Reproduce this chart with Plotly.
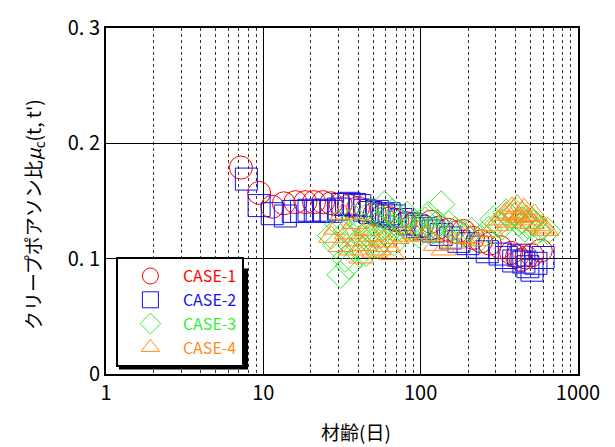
import plotly.graph_objects as go

# Creep Poisson's ratio vs. concrete age (days) for four test cases
case1_age = [7.2, 9.4, 11.4, 13.5, 16, 18.5, 21, 24, 27, 31, 35, 40, 45, 51, 57, 64, 71, 80, 90,
             102, 116, 130, 150, 170, 187, 215, 242, 275, 320, 376, 410, 433, 470, 510, 580]
case1_mu = [0.179, 0.157, 0.145, 0.148, 0.149, 0.149, 0.149, 0.149, 0.148, 0.147, 0.146, 0.144,
            0.142, 0.139, 0.137, 0.135, 0.133, 0.131, 0.130, 0.129, 0.132, 0.127, 0.125, 0.123,
            0.124, 0.118, 0.115, 0.113, 0.110, 0.105, 0.102, 0.099, 0.101, 0.103, 0.107]

case2_age = [7.8, 9.4, 11.4, 13.8, 15.5, 17.5, 19.5, 22, 24.5, 27, 30, 32, 35, 38, 41, 44, 48, 53,
             58, 63, 68, 75, 85, 95, 108, 120, 135, 155, 175, 200, 230, 265, 320, 350, 390, 420,
             453, 480, 510, 540, 600]
case2_mu = [0.169, 0.146, 0.139, 0.137, 0.141, 0.141, 0.142, 0.141, 0.142, 0.141, 0.143, 0.147,
            0.148, 0.147, 0.146, 0.142, 0.140, 0.141, 0.138, 0.139, 0.137, 0.134, 0.130, 0.128,
            0.126, 0.124, 0.121, 0.118, 0.115, 0.113, 0.110, 0.106, 0.104, 0.101, 0.098, 0.103,
            0.097, 0.093, 0.090, 0.096, 0.101]

case3_age = [27, 29, 30, 31, 33, 34, 35, 37, 38, 39, 41, 42, 44, 45, 47, 48, 50, 51, 53, 55, 57,
             59, 61, 63, 66, 68, 71, 74, 78, 82, 87, 92, 97, 102, 107, 112, 117, 122, 128, 135,
             142, 150, 165, 185, 210, 240, 270, 290, 310, 330, 350, 370, 400, 420, 440, 460, 480,
             500, 520, 550, 580, 640]
case3_mu = [0.120, 0.112, 0.130, 0.086, 0.100, 0.124, 0.094, 0.110, 0.135, 0.125, 0.104, 0.118,
            0.128, 0.105, 0.116, 0.140, 0.122, 0.130, 0.112, 0.120, 0.134, 0.147, 0.121, 0.128,
            0.140, 0.114, 0.126, 0.132, 0.124, 0.138, 0.127, 0.130, 0.121, 0.128, 0.133, 0.138,
            0.124, 0.125, 0.131, 0.147, 0.120, 0.130, 0.125, 0.122, 0.124, 0.118, 0.125, 0.134,
            0.130, 0.128, 0.140, 0.136, 0.140, 0.131, 0.133, 0.126, 0.129, 0.134, 0.131, 0.124,
            0.126, 0.124]

case4_age = [27, 29, 31, 32, 34, 36, 38, 40, 42, 44, 46, 48, 51, 54, 58, 62, 66, 70, 80, 92,
             110, 125, 140, 160, 185, 208, 240, 280, 300, 320, 340, 350, 365, 380, 395, 410, 425,
             440, 455, 470, 490, 510, 530, 560, 590, 625]
case4_mu = [0.119, 0.126, 0.111, 0.139, 0.122, 0.108, 0.131, 0.116, 0.101, 0.112, 0.125, 0.120,
            0.106, 0.108, 0.115, 0.111, 0.104, 0.118, 0.120, 0.122, 0.120, 0.112, 0.108, 0.114,
            0.118, 0.119, 0.116, 0.124, 0.129, 0.134, 0.138, 0.140, 0.132, 0.144, 0.139, 0.146,
            0.136, 0.140, 0.143, 0.137, 0.134, 0.131, 0.138, 0.129, 0.127, 0.125]

series = [
    ("CASE-1", case1_age, case1_mu, "circle-open", "#ff0000", 23),
    ("CASE-2", case2_age, case2_mu, "square-open", "#1414e6", 22),
    ("CASE-3", case3_age, case3_mu, "diamond-open", "#33ee33", 21),
    ("CASE-4", case4_age, case4_mu, "triangle-up-open", "#ff8c1a", 22),
]

x_ticks = [1, 10, 100, 1000]
y_ticks = [0, 0.1, 0.2, 0.3]

fig = go.Figure()
for name, ages, vals, sym, col, sz in series:
    fig.add_trace(go.Scatter(
        x=ages, y=vals, mode="markers",
        # legend label drawn in the series colour
        name=f"<span style='color:{col}'>{name}</span>",
        marker=dict(symbol=sym, size=sz, color=col, line=dict(width=1, color=col)),
    ))

font_jp = "Noto Sans CJK JP"
font_num = "Liberation Sans Narrow, Noto Sans CJK JP"

fig.update_layout(
    width=615, height=447,
    margin=dict(l=106, r=37, t=20, b=73),
    paper_bgcolor="white", plot_bgcolor="white",
    font=dict(family=font_jp, color="black"),
    showlegend=True,
    legend=dict(
        x=0.021, y=0.02, xanchor="left", yanchor="bottom",
        bgcolor="white", bordercolor="black", borderwidth=2,
        font=dict(size=16, family=font_num),
        itemsizing="trace", tracegroupgap=0,
        itemwidth=55,
    ),
    xaxis=dict(
        type="log", range=[0, 3],
        tickvals=x_ticks, ticktext=[str(v) for v in x_ticks],
        tickfont=dict(size=20, family=font_num),
        showgrid=True, gridcolor="black", gridwidth=1,
        minor=dict(dtick="D1", showgrid=True, gridcolor="#333333", griddash="dot", gridwidth=1),
        showline=True, linecolor="black", linewidth=2, mirror=True,
        ticks="", zeroline=False,
    ),
    yaxis=dict(
        range=[0, 0.3],
        tickvals=y_ticks, ticktext=["0", "0. 1", "0. 2", "0. 3"],
        tickfont=dict(size=20, family=font_num),
        showgrid=True, gridcolor="black", gridwidth=1,
        showline=True, linecolor="black", linewidth=2, mirror=True,
        ticks="", zeroline=False,
    ),
)

# axis titles placed as paper-anchored annotations
fig.add_annotation(text="材齢(日)", xref="paper", yref="paper", x=0.53, y=-0.165,
                   xanchor="center", yanchor="middle", showarrow=False,
                   font=dict(size=19, family=font_jp))
fig.add_annotation(text="クリープポアソン比<i>μ</i><sub>c</sub>(t, t')",
                   xref="paper", yref="paper", x=-0.152, y=0.46, textangle=-90,
                   xanchor="center", yanchor="middle", showarrow=False,
                   font=dict(size=19, family=font_jp))

# drop shadow offset behind the legend box
fig.add_shape(type="rect", xref="paper", yref="paper",
              x0=0.0275, x1=0.301, y0=0.013, y1=0.305,
              fillcolor="black", line=dict(width=0), layer="above")

fig.write_html("out.html")
